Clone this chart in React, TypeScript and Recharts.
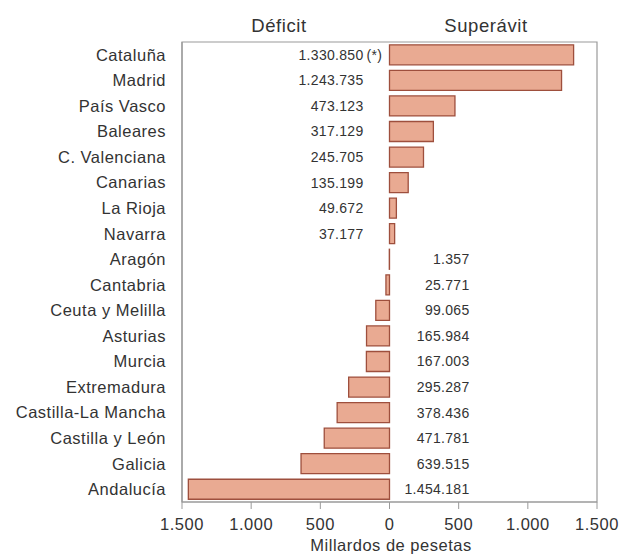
import { Bar, BarChart, LabelList, ReferenceArea, XAxis, YAxis } from "recharts";

// Regions, top to bottom as printed.
const regions = [
  "Cataluña",
  "Madrid",
  "País Vasco",
  "Baleares",
  "C. Valenciana",
  "Canarias",
  "La Rioja",
  "Navarra",
  "Aragón",
  "Cantabria",
  "Ceuta y Melilla",
  "Asturias",
  "Murcia",
  "Extremadura",
  "Castilla-La Mancha",
  "Castilla y León",
  "Galicia",
  "Andalucía",
];

// Fiscal balance in millones de pesetas (sign follows the bar direction).
const balance = [
  1330850, 1243735, 473123, 317129, 245705, 135199, 49672, 37177, -1357, -25771, -99065,
  -165984, -167003, -295287, -378436, -471781, -639515, -1454181,
];

// Footnote marks printed after a value.
const notes = ["(*)", "", "", "", "", "", "", "", "", "", "", "", "", "", "", "", "", ""];

const xTicks = [-1500, -1000, -500, 0, 500, 1000, 1500];

const FONT = "'Liberation Sans', Arial, Helvetica, sans-serif";
const TEXT = "#333";
const FRAME = "#9a9a9a";

function dots(n: number): string {
  return Math.round(Math.abs(n))
    .toString()
    .replace(/\B(?=(\d{3})+(?!\d))/g, ".");
}

const rows = regions.map((region, i) => ({ region, value: balance[i] / 1000 }));

function ValueLabel(props: any) {
  const { x, y, width, height, index } = props;
  const v = balance[index];
  const zero = width < 0 ? x : v < 0 ? x + width : x;
  const cy = y + height / 2;
  const common = {
    fontFamily: FONT,
    fontSize: 14,
    letterSpacing: 0.3,
    fill: TEXT,
    dominantBaseline: "central" as const,
  };
  if (v >= 0) {
    return (
      <g>
        <text x={zero - 26} y={cy} textAnchor="end" {...common}>
          {dots(v)}
        </text>
        {notes[index] ? (
          <text x={zero - 23} y={cy} textAnchor="start" {...common}>
            {notes[index]}
          </text>
        ) : null}
      </g>
    );
  }
  return (
    <text x={zero + 80} y={cy} textAnchor="end" {...common}>
      {dots(v)}
    </text>
  );
}

const headStyle = {
  position: "absolute" as const,
  fontFamily: FONT,
  fontSize: 18.5,
  letterSpacing: 0.6,
  color: TEXT,
  width: 200,
  textAlign: "center" as const,
  lineHeight: "20px",
};

export default function App() {
  return (
    <div style={{ position: "absolute", left: 0, top: 0, width: 619, height: 558, background: "#fff" }}>
      <div style={{ ...headStyle, left: 179, top: 16 }}>Déficit</div>
      <div style={{ ...headStyle, left: 386, top: 16 }}>Superávit</div>
      <BarChart
        width={619}
        height={558}
        data={rows}
        layout="vertical"
        margin={{ top: 42, right: 22, bottom: 26, left: 0 }}
        barCategoryGap="11%"
      >
        <ReferenceArea x1={-1500} x2={1500} fill="none" fillOpacity={0} stroke={FRAME} strokeWidth={1.2} />
        <XAxis
          type="number"
          domain={[-1500, 1500]}
          ticks={xTicks}
          tickFormatter={(v: number) => dots(v)}
          axisLine={{ stroke: FRAME, strokeWidth: 1.2 }}
          tickLine={{ stroke: FRAME }}
          tickSize={7}
          tickMargin={9}
          tick={{ fontFamily: FONT, fontSize: 16.5, letterSpacing: 0.5, fill: TEXT }}
          interval={0}
        />
        <YAxis
          type="category"
          dataKey="region"
          width={182}
          axisLine={{ stroke: FRAME, strokeWidth: 1.2 }}
          tickLine={false}
          tickSize={6}
          tickMargin={10}
          interval={0}
          tick={{ fontFamily: FONT, fontSize: 16.5, letterSpacing: 0.5, fill: TEXT }}
        />
        <Bar dataKey="value" fill="#e9aa92" stroke="#9e4f3d" strokeWidth={1.3} isAnimationActive={false}>
          <LabelList dataKey="value" content={<ValueLabel />} />
        </Bar>
      </BarChart>
      <div
        style={{
          position: "absolute",
          left: 191,
          width: 400,
          top: 535,
          textAlign: "center",
          fontFamily: FONT,
          fontSize: 16.5,
          letterSpacing: 0.5,
          color: TEXT,
          lineHeight: "20px",
        }}
      >
        Millardos de pesetas
      </div>
    </div>
  );
}
